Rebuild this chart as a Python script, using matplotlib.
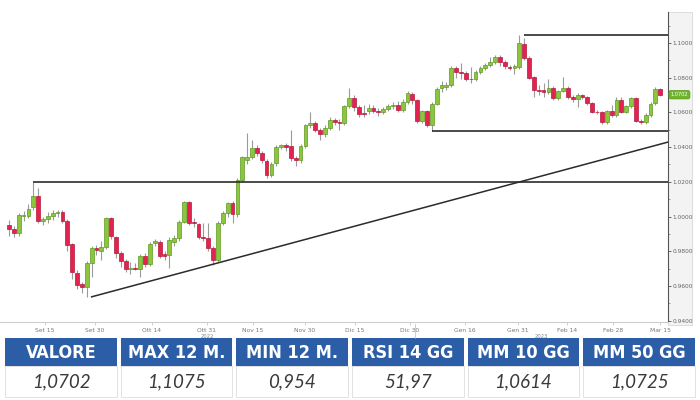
import matplotlib
matplotlib.use("Agg")
import matplotlib.pyplot as plt
from matplotlib.patches import Rectangle
import numpy as np

# ---------------- data ----------------
opens = [0.9952,0.9929,0.9906,1.0004,1.0004,1.0055,1.0119,0.9975,0.9986,1.0004,1.0021,1.0027,0.9975,
         0.9842,0.9675,0.9612,0.9595,0.9733,0.9819,0.9802,0.9825,0.9992,0.9883,0.9790,0.9744,0.9700,
         0.9706,0.9698,0.9773,0.9727,0.9848,0.9854,0.9785,0.9779,0.9854,0.9877,0.9969,1.0084,0.9969,
         0.9957,0.9883,0.9877,0.9819,0.9750,0.9963,1.0021,1.0078,1.0015,1.0211,1.0326,1.0343,1.0395,
         1.0366,1.0320,1.0240,1.0309,1.0401,1.0412,1.0407,1.0338,1.0326,1.0407,1.0528,1.0539,1.0499,
         1.0476,1.0510,1.0556,1.0545,1.0539,1.0637,1.0683,1.0631,1.0595,1.0608,1.0626,1.0608,1.0603,
         1.0620,1.0637,1.0643,1.0614,1.0660,1.0706,1.0672,1.0551,1.0608,1.0528,1.0649,1.0741,1.0745,
         1.0758,1.0856,1.0833,1.0827,1.0793,1.0793,1.0833,1.0856,1.0873,1.0891,1.0919,1.0891,1.0862,
         1.0856,1.0862,1.0994,1.0914,1.0804,1.0729,1.0729,1.0718,1.0741,1.0683,1.0724,1.0741,1.0689,
         1.0677,1.0700,1.0689,1.0654,1.0605,1.0603,1.0545,1.0608,1.0585,1.0672,1.0603,1.0637,1.0683,
         1.0551,1.0545,1.0585,1.0654,1.0735]
closes = [0.9929,0.9906,1.0009,1.0010,1.0044,1.0119,0.9975,0.9986,1.0004,1.0021,1.0027,0.9975,0.9836,
          0.9681,0.9606,0.9595,0.9733,0.9819,0.9808,0.9825,0.9992,0.9888,0.9790,0.9744,0.9698,0.9706,
          0.9700,0.9773,0.9727,0.9842,0.9860,0.9773,0.9773,0.9865,0.9877,0.9969,1.0084,0.9963,0.9963,
          0.9883,0.9877,0.9819,0.9750,0.9963,1.0021,1.0078,1.0015,1.0211,1.0343,1.0343,1.0395,1.0366,
          1.0326,1.0240,1.0303,1.0401,1.0412,1.0401,1.0338,1.0326,1.0407,1.0528,1.0539,1.0499,1.0476,
          1.0510,1.0556,1.0545,1.0539,1.0637,1.0683,1.0631,1.0591,1.0591,1.0626,1.0608,1.0603,1.0620,
          1.0637,1.0643,1.0614,1.0660,1.0712,1.0672,1.0551,1.0608,1.0528,1.0649,1.0735,1.0758,1.0758,
          1.0856,1.0833,1.0827,1.0793,1.0790,1.0833,1.0856,1.0873,1.0891,1.0919,1.0891,1.0868,1.0858,
          1.0868,1.1000,1.0914,1.0798,1.0729,1.0724,1.0718,1.0741,1.0683,1.0724,1.0741,1.0689,1.0677,
          1.0700,1.0689,1.0654,1.0603,1.0600,1.0545,1.0608,1.0585,1.0672,1.0603,1.0637,1.0683,1.0551,
          1.0545,1.0585,1.0649,1.0735,1.0702]
highs = [0.9980,0.9945,1.0020,1.0030,1.0070,1.0199,1.0165,1.0000,1.0025,1.0035,1.0040,1.0040,0.9985,
         0.9850,0.9690,0.9625,0.9745,0.9830,0.9835,0.9860,1.0000,1.0000,0.9890,0.9800,0.9755,0.9740,
         0.9730,0.9785,0.9790,0.9855,0.9870,0.9865,0.9800,0.9880,0.9895,0.9980,1.0090,1.0090,0.9990,
         0.9965,0.9960,0.9960,0.9830,0.9975,1.0030,1.0085,1.0090,1.0220,1.0350,1.0480,1.0440,1.0410,
         1.0375,1.0330,1.0315,1.0410,1.0420,1.0425,1.0499,1.0350,1.0415,1.0535,1.0600,1.0550,1.0510,
         1.0525,1.0575,1.0565,1.0560,1.0645,1.0740,1.0700,1.0640,1.0640,1.0650,1.0645,1.0625,1.0630,
         1.0650,1.0660,1.0665,1.0675,1.0725,1.0720,1.0680,1.0615,1.0615,1.0660,1.0745,1.0780,1.0775,
         1.0865,1.0865,1.0885,1.0840,1.0860,1.0845,1.0865,1.0885,1.0920,1.0930,1.0930,1.0900,1.0875,
         1.0880,1.1046,1.1030,1.0925,1.0810,1.0760,1.0770,1.0790,1.0750,1.0730,1.0804,1.0750,1.0700,
         1.0710,1.0705,1.0695,1.0660,1.0615,1.0610,1.0615,1.0640,1.0690,1.0690,1.0645,1.0690,1.0690,
         1.0560,1.0595,1.0660,1.0745,1.0740]
lows = [0.9890,0.9880,0.9885,0.9975,0.9990,1.0040,0.9960,0.9950,0.9965,0.9980,1.0000,0.9960,0.9800,
        0.9640,0.9580,0.9560,0.9537,0.9650,0.9780,0.9750,0.9810,0.9870,0.9760,0.9710,0.9680,0.9670,
        0.9690,0.9650,0.9710,0.9715,0.9830,0.9760,0.9750,0.9704,0.9830,0.9860,0.9960,0.9950,0.9940,
        0.9870,0.9860,0.9800,0.9720,0.9735,0.9950,1.0000,0.9960,1.0000,1.0200,1.0300,1.0330,1.0350,
        1.0310,1.0220,1.0230,1.0290,1.0390,1.0380,1.0320,1.0290,1.0310,1.0395,1.0510,1.0485,1.0440,
        1.0460,1.0500,1.0530,1.0500,1.0525,1.0625,1.0610,1.0575,1.0575,1.0590,1.0595,1.0580,1.0590,
        1.0610,1.0620,1.0600,1.0600,1.0650,1.0650,1.0540,1.0540,1.0516,1.0493,1.0640,1.0720,1.0730,
        1.0745,1.0800,1.0790,1.0780,1.0770,1.0780,1.0820,1.0845,1.0860,1.0880,1.0870,1.0850,1.0845,
        1.0820,1.0850,1.0900,1.0790,1.0690,1.0700,1.0690,1.0705,1.0670,1.0670,1.0715,1.0680,1.0660,
        1.0630,1.0680,1.0640,1.0595,1.0590,1.0535,1.0535,1.0575,1.0575,1.0595,1.0595,1.0625,1.0545,
        1.0535,1.0535,1.0575,1.0640,1.0695]

tick_labels = ['Set 15','Set 30','Ott 14','Ott 31','Nov 15','Nov 30','Dic 15',
               'Dic 30','Gen 16','Gen 31','Feb 14','Feb 28','Mar 15']
tick_index = [7.4, 17.7, 29.4, 40.7, 50.2, 60.9, 71.2, 82.5, 93.8, 104.7, 114.8, 124.3, 134.0]
year_labels = ['2022', '2023']
year_start_index = 83.5

resistance = 1.0199
resistance_from = 5
box_top = 1.1046
box_top_from = 106
box_bottom = 1.0493
box_bottom_from = 87
trend_idx = [17, 135.6]
trend_val = [0.9537, 1.0429]

last_price = 1.0702

table_headers = ['VALORE', 'MAX 12 M.', 'MIN 12 M.', 'RSI 14 GG', 'MM 10 GG', 'MM 50 GG']
table_values = ['1,0702', '1,1075', '0,954', '51,97', '1,0614', '1,0725']

# ---------------- figure ----------------
W, H = 700, 400
fig = plt.figure(figsize=(7, 4), dpi=100)
fig.patch.set_facecolor('white')

# background / table layer in pixel coordinates
axt = fig.add_axes([0, 0, 1, 1], zorder=-1)
axt.set_xlim(0, W); axt.set_ylim(H, 0); axt.axis('off')
axt.add_patch(Rectangle((668, 12), 24, 313, facecolor='#f3f3f3', edgecolor='#d8d8d8', lw=0.6))

ax_left, ax_right, ax_top, ax_bot = 0, 668, 12, 322
ax = fig.add_axes([ax_left / W, 1 - ax_bot / H, (ax_right - ax_left) / W, (ax_bot - ax_top) / H])
ax.patch.set_facecolor('white')

n = len(opens)
idx = np.arange(n)
o = np.array(opens); c = np.array(closes); h = np.array(highs); l = np.array(lows)
up = c >= o
GREEN, GREEN_E = '#8cc63f', '#5f9a22'
RED, RED_E = '#e2234f', '#b51a3d'

ax.vlines(idx, l, h, color='#9a9a9a', lw=0.8, zorder=2)
body_b = np.minimum(o, c)
body_h = np.maximum(np.abs(c - o), 0.0005)
ax.bar(idx[up], body_h[up], bottom=body_b[up], width=0.78, color=GREEN,
       edgecolor=GREEN_E, linewidth=0.5, zorder=3)
ax.bar(idx[~up], body_h[~up], bottom=body_b[~up], width=0.78, color=RED,
       edgecolor=RED_E, linewidth=0.5, zorder=3)

xmin, xmax = -1.85, 135.6
ax.set_xlim(xmin, xmax)
ax.set_ylim(1.1 - (ax_bot - 43) / 1735, 1.1 + (43 - ax_top) / 1735)

LC = '#2b2b2b'
ax.hlines(resistance, resistance_from, xmax, color=LC, lw=1.2, zorder=4)
ax.hlines(box_top, box_top_from, xmax, color=LC, lw=1.2, zorder=4)
ax.hlines(box_bottom, box_bottom_from, xmax, color=LC, lw=1.2, zorder=4)
ax.plot(trend_idx, trend_val, color=LC, lw=1.1, zorder=4)

for s in ['left', 'top']:
    ax.spines[s].set_visible(False)
ax.spines['right'].set_color('#555555')
ax.spines['right'].set_linewidth(0.8)
ax.spines['bottom'].set_color('#cccccc')
ax.spines['bottom'].set_linewidth(0.8)

ax.yaxis.tick_right()
yt = np.round(np.arange(0.94, 1.1001, 0.02), 2)
ax.set_yticks(yt)
ax.set_yticklabels([f'{v:.4f}' for v in yt])
ax.set_yticks(np.round(np.arange(0.95, 1.11, 0.02), 2), minor=True)
ax.tick_params(axis='y', which='major', labelsize=4.2, labelcolor='#666666', color='#555555',
               length=2.5, width=0.6, pad=1)
ax.tick_params(axis='y', which='minor', color='#777777', length=1.5, width=0.5)

ax.set_xticks(tick_index)
ax.set_xticklabels(tick_labels)
ax.tick_params(axis='x', labelsize=4.3, labelcolor='#777777', color='#bbbbbb', length=2, width=0.5, pad=2)

ax.text((xmin + year_start_index) / 2, -0.038, year_labels[0], transform=ax.get_xaxis_transform(),
        ha='center', va='top', fontsize=3.8, color='#888888')
ax.text((year_start_index + xmax) / 2, -0.038, year_labels[1], transform=ax.get_xaxis_transform(),
        ha='center', va='top', fontsize=3.8, color='#888888')
ax.plot([year_start_index, year_start_index], [-0.005, -0.05], transform=ax.get_xaxis_transform(),
        color='#bbbbbb', lw=0.5, clip_on=False)

ax.text(1.004, last_price, f'{last_price:.4f}', transform=ax.get_yaxis_transform(),
        ha='left', va='center', fontsize=3.6, color='white', zorder=6,
        bbox=dict(boxstyle='round,pad=0.35,rounding_size=0.4', fc='#6fb52c', ec='#5a9a1f', lw=0.5))

# ---------------- table ----------------
ncol = len(table_headers)
x0, x1, gap = 5, 695, 3.8
cw = (x1 - x0 - gap * (ncol - 1)) / ncol
for k, (hd, val) in enumerate(zip(table_headers, table_values)):
    cx = x0 + k * (cw + gap)
    axt.add_patch(Rectangle((cx, 338), cw, 28, facecolor='#2c5ea8', edgecolor='none'))
    axt.add_patch(Rectangle((cx, 366), cw, 31, facecolor='white', edgecolor='#e2e2e2', lw=0.7))
    axt.text(cx + cw / 2, 352.5, hd, ha='center', va='center', color='white', fontsize=13,
             fontweight='bold', fontstretch='condensed', family=['DejaVu Sans'])
    axt.text(cx + cw / 2, 382, val, ha='center', va='center', color='#3a3a3a', fontsize=13.5,
             style='italic', family=['Lato', 'DejaVu Sans'])

fig.savefig('out.png', dpi=100, facecolor='white')
